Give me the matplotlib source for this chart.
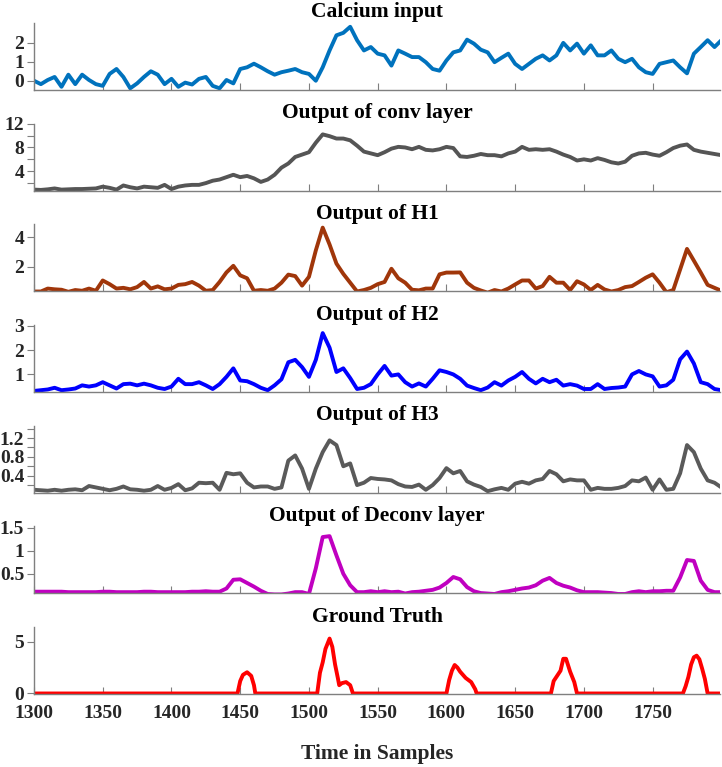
import numpy as np
import matplotlib
matplotlib.use('Agg')
import matplotlib.pyplot as plt
from matplotlib.ticker import FormatStrFormatter, FixedLocator

plt.rcParams['font.family'] = ['Liberation Serif', 'DejaVu Serif']
plt.rcParams['font.weight'] = 'bold'

# sample positions (every 5 samples)
samples = np.arange(1300, 1801, 5)

calcium = [0, -0.18, 0.04, 0.2, -0.32, 0.32, -0.18, 0.32, 0.04, -0.18,
           -0.27, 0.36, 0.62, 0.2, -0.4, -0.14, 0.2, 0.5, 0.32, -0.18,
           0.1, -0.32, -0.1, -0.2, 0.1, 0.2, -0.27, -0.4, 0.04, -0.14,
           0.62, 0.71, 0.9, 0.71, 0.5, 0.32, 0.45, 0.53, 0.62, 0.45,
           0.36, 0, 0.71, 1.6, 2.4, 2.53, 2.85, 2.14,
           1.6, 1.78, 1.43, 1.34, 0.8, 1.6, 1.43, 1.25, 1.25, 0.98,
           0.62, 0.53, 1.07, 1.5, 1.6, 2.17, 1.96, 1.64, 1.5, 0.98,
           1.21, 1.43, 0.89, 0.62, 0.89, 1.16, 1.34, 1.07, 1.34, 2.0,
           1.6, 1.96, 1.43, 1.87, 1.34, 1.34, 1.6, 1.16, 0.98, 1.16,
           0.71, 0.45, 0.36, 0.89, 0.98, 1.07, 0.71, 0.39, 1.43, 1.78,
           2.14, 1.78, 2.14]

conv_out = [0.9, 0.85, 0.95, 1.1, 0.9, 0.95, 1.0, 1.0, 1.05, 1.1,
            1.4, 1.2, 0.9, 1.6, 1.3, 1.1, 1.4, 1.3, 1.2, 1.7,
            1.0, 1.4, 1.6, 1.7, 1.7, 2.0, 2.4, 2.6, 3.0, 3.4,
            3.0, 3.2, 2.8, 2.2, 2.6, 3.4, 4.6, 5.3, 6.4, 6.8,
            7.2, 8.8, 10.2, 9.9, 9.5, 9.5, 9.2, 8.3,
            7.3, 7.0, 6.7, 7.2, 7.8, 8.1, 8.0, 7.7, 8.1, 7.6,
            7.5, 7.7, 8.1, 7.9, 6.5, 6.4, 6.6, 6.9, 6.7, 6.7,
            6.5, 7.0, 7.3, 8.1, 7.6, 7.7, 7.6, 7.7, 7.3, 6.8,
            6.4, 5.8, 6.0, 5.8, 6.2, 5.9, 5.5, 5.3, 5.6, 6.6,
            7.0, 7.1, 6.8, 6.6, 7.2, 7.9, 8.3, 8.5, 7.6, 7.3,
            7.1, 6.9, 6.7]

h1_out = [0.3, 0.3, 0.5, 0.45, 0.42, 0.28, 0.4, 0.35, 0.5, 0.35,
          1.05, 0.8, 0.5, 0.55, 0.45, 0.6, 0.95, 0.5, 0.65, 0.45,
          0.5, 0.75, 0.8, 0.95, 0.7, 0.35, 0.4, 0.95, 1.6, 2.05,
          1.4, 1.2, 0.35, 0.4, 0.35, 0.5, 0.9, 1.45, 1.35, 0.7,
          1.3, 3.1, 4.65, 3.5, 2.2, 1.5, 0.9, 0.3,
          0.4, 0.55, 0.8, 0.95, 1.85, 1.2, 0.9, 0.42, 0.38, 0.5,
          0.5, 1.47, 1.59, 1.59, 1.6, 0.9, 0.55, 0.37, 0.22, 0.4,
          0.3, 0.5, 0.78, 1.05, 1.05, 0.5, 0.67, 1.3, 0.9, 0.9,
          0.4, 1.0, 0.78, 0.4, 0.75, 0.44, 0.3, 0.4, 0.6, 0.67,
          0.95, 1.24, 1.47, 0.9, 0.25, 0.4, 1.8, 3.2, 2.4, 1.59,
          0.75, 0.55, 0.35]

h2_out = [0.32, 0.35, 0.38, 0.45, 0.35, 0.38, 0.42, 0.55, 0.5, 0.55,
          0.68, 0.55, 0.42, 0.6, 0.62, 0.55, 0.62, 0.55, 0.45, 0.4,
          0.5, 0.82, 0.6, 0.6, 0.68, 0.55, 0.4, 0.6, 0.9, 1.25,
          0.75, 0.72, 0.6, 0.45, 0.35, 0.55, 0.8, 1.5, 1.6, 1.3,
          0.9, 1.6, 2.7, 2.1, 1.1, 1.25, 0.85, 0.4,
          0.45, 0.6, 1.0, 1.35, 0.95, 1.0, 0.68, 0.5, 0.63, 0.5,
          0.82, 1.17, 1.1, 1.0, 0.82, 0.54, 0.44, 0.35, 0.46, 0.68,
          0.54, 0.75, 0.9, 1.1, 0.82, 0.63, 0.82, 0.68, 0.78, 0.54,
          0.6, 0.54, 0.4, 0.4, 0.6, 0.4, 0.44, 0.46, 0.5, 1.0,
          1.14, 1.0, 0.92, 0.5, 0.55, 0.78, 1.62, 1.94, 1.45, 0.68,
          0.6, 0.4, 0.35]

h3_out = [0.1, 0.09, 0.08, 0.1, 0.08, 0.1, 0.11, 0.09, 0.18, 0.15,
          0.12, 0.09, 0.12, 0.17, 0.11, 0.1, 0.08, 0.1, 0.18, 0.1,
          0.14, 0.22, 0.09, 0.13, 0.25, 0.24, 0.25, 0.1, 0.46, 0.43,
          0.45, 0.25, 0.15, 0.17, 0.17, 0.12, 0.15, 0.72, 0.83, 0.55,
          0.12, 0.55, 0.9, 1.15, 1.05, 0.6, 0.66, 0.2,
          0.25, 0.35, 0.33, 0.32, 0.3, 0.22, 0.17, 0.16, 0.21, 0.1,
          0.2, 0.35, 0.56, 0.45, 0.5, 0.28, 0.21, 0.16, 0.07, 0.11,
          0.14, 0.1, 0.23, 0.27, 0.23, 0.3, 0.33, 0.5, 0.43, 0.28,
          0.32, 0.3, 0.3, 0.1, 0.14, 0.12, 0.12, 0.14, 0.18, 0.3,
          0.28, 0.36, 0.1, 0.32, 0.1, 0.12, 0.45, 1.05, 0.9, 0.55,
          0.3, 0.25, 0.15]

deconv_out = [0.11, 0.11, 0.11, 0.11, 0.11, 0.1, 0.1, 0.1, 0.1, 0.1,
              0.11, 0.11, 0.1, 0.1, 0.1, 0.1, 0.11, 0.11, 0.1, 0.1,
              0.1, 0.1, 0.1, 0.11, 0.11, 0.12, 0.11, 0.11, 0.18, 0.37,
              0.38, 0.3, 0.22, 0.13, 0.06, 0.05, 0.05, 0.07, 0.1, 0.1,
              0.06, 0.62, 1.3, 1.32, 0.9, 0.5, 0.25, 0.1,
              0.1, 0.12, 0.1, 0.12, 0.1, 0.11, 0.07, 0.1, 0.11, 0.13,
              0.15, 0.2, 0.3, 0.43, 0.38, 0.21, 0.12, 0.08, 0.07, 0.06,
              0.1, 0.12, 0.15, 0.18, 0.2, 0.25, 0.35, 0.41, 0.3, 0.24,
              0.2, 0.14, 0.1, 0.1, 0.1, 0.09, 0.08, 0.06, 0.06, 0.1,
              0.12, 0.1, 0.12, 0.12, 0.13, 0.13, 0.42, 0.8, 0.78, 0.35,
              0.15, 0.1, 0.1]

# ground truth, breakpoints
gt_samples = [1300, 1448, 1450, 1452, 1455, 1458, 1460, 1461,
              1506, 1508, 1510, 1512, 1515, 1517, 1519, 1521, 1522, 1524, 1527, 1530, 1532,
              1600, 1602, 1604, 1606, 1608, 1610, 1614, 1618, 1621, 1622,
              1676, 1678, 1681, 1683, 1685, 1687, 1690, 1693, 1695,
              1772, 1774, 1776, 1778, 1780, 1782, 1784, 1786, 1788, 1790, 1799]
gt_values = [0, 0, 1.2, 1.8, 2.05, 1.7, 0.8, 0,
             0, 2.0, 3.0, 4.3, 5.3, 4.5, 2.8, 1.5, 0.8, 1.0, 1.1, 0.8, 0,
             0, 1.3, 2.2, 2.75, 2.5, 2.1, 1.5, 1.1, 0.4, 0,
             0, 1.2, 1.8, 2.2, 3.35, 3.35, 2.1, 1.1, 0,
             0, 0.7, 1.6, 2.8, 3.5, 3.65, 3.3, 2.4, 1.4, 0, 0]

titles = ['Calcium input', 'Output of conv layer', 'Output of H1', 'Output of H2',
          'Output of H3', 'Output of Deconv layer', 'Ground Truth']
colors = ['#0072BD', '#555555', '#A0360A', '#0000FF', '#5A5A5A', '#C000C0', '#FF0000']
series = [(samples, calcium), (samples, conv_out), (samples, h1_out), (samples, h2_out),
          (samples, h3_out), (samples, deconv_out), (gt_samples, gt_values)]
ylims = [(-0.48, 3.05), (0.75, 12.0), (0.32, 4.87), (0.28, 3.03),
         (0.04, 1.46), (0.075, 1.53), (-0.05, 6.4)]
yticks = [[0, 1, 2], [4, 8, 12], [2, 4], [1, 2, 3],
          [0.4, 0.8, 1.2], [0.5, 1, 1.5], [0, 5]]
yminor = [[], [2, 6, 10], [], [], [0.2, 0.6, 1.0, 1.4], [], []]

axcol = '#7F7F7F'
fig, axes = plt.subplots(7, 1, figsize=(7.22, 7.67), dpi=100)
fig.subplots_adjust(left=34/722, right=720/722, top=1-23/767, bottom=1-694/767, hspace=0.507)

for i, ax in enumerate(axes):
    x, y = series[i]
    ax.plot(x, y, color=colors[i], lw=2.8, solid_joinstyle='round')
    ax.set_xlim(1300, 1799)
    ax.set_ylim(*ylims[i])
    ax.set_title(titles[i], fontsize=15.5, fontweight='bold', pad=4)
    for s in ['top', 'right']:
        ax.spines[s].set_visible(False)
    for s in ['left', 'bottom']:
        ax.spines[s].set_color(axcol)
        ax.spines[s].set_linewidth(1.0)
    ax.set_xticks(np.arange(1300, 1751, 50))
    ax.set_yticks(yticks[i])
    ax.yaxis.set_minor_locator(FixedLocator(yminor[i]))
    ax.yaxis.set_major_formatter(FormatStrFormatter('%g'))
    ax.tick_params(axis='x', direction='in', length=5, width=0.8, color=axcol,
                   labelsize=14, labelcolor='#262626', pad=8)
    ax.tick_params(axis='y', which='both', direction='out', length=5, width=0.8, color=axcol,
                   labelsize=14, labelcolor='#262626', pad=2)
    if i < 6:
        ax.tick_params(axis='x', labelbottom=False)

axes[-1].set_xlabel('Time in Samples', fontsize=15.5, fontweight='bold', color='#262626', labelpad=16)

fig.savefig('out.png', dpi=100)
